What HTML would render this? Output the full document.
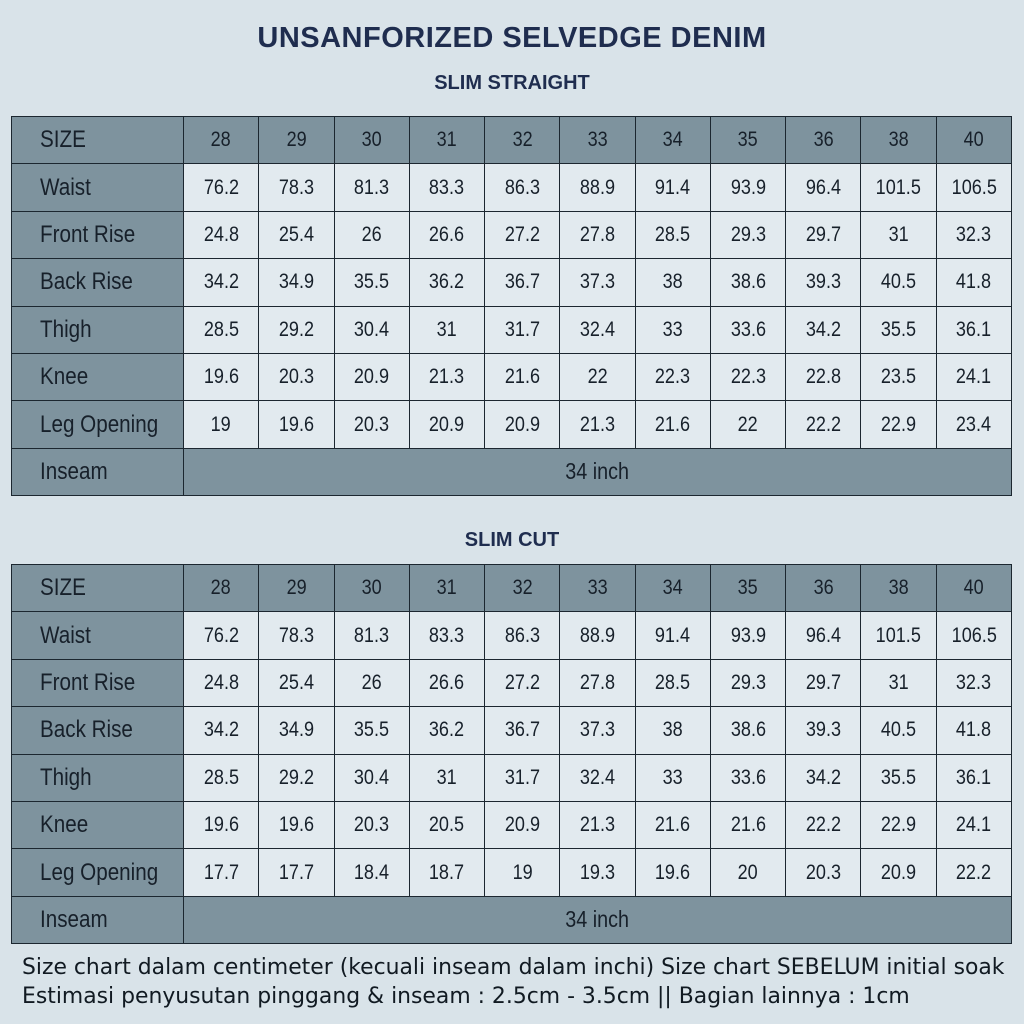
<!DOCTYPE html>
<html><head><meta charset="utf-8"><style>
body{margin:0;width:1024px;height:1024px;background:#d9e3e9;position:relative;overflow:hidden;font-family:"Liberation Sans",sans-serif;color:#17202a}
.t{position:absolute;left:0;width:1024px;text-align:center;font-family:"Liberation Sans",sans-serif;font-weight:bold;color:#1f2d4f}
table{position:absolute;left:11px;width:1001px;border-collapse:collapse;table-layout:fixed}
td{border:1.5px solid #1c2730;height:46.4px;padding:0;text-align:center;font-size:21px;background:#e2eaef;white-space:nowrap}
td span{display:inline-block;transform:scaleX(.86)}
td:first-child{background:#7e939e;text-align:left;padding-left:28px;font-size:24px;width:143px}
td:first-child span{transform-origin:left center}
tr.h td{background:#7e939e}
td.s{background:#7e939e;font-size:23px}
.f{position:absolute;left:22px;font-family:"DejaVu Sans",sans-serif;font-size:21.9px;color:#111a22;white-space:nowrap}
</style></head><body>
<div class="t" style="top:22px;font-size:29px;letter-spacing:0.5px">UNSANFORIZED SELVEDGE DENIM</div>
<div class="t" style="top:72px;font-size:20px">SLIM STRAIGHT</div>
<table style="top:116px">
<tr class="h"><td><span>SIZE</span></td><td><span>28</span></td><td><span>29</span></td><td><span>30</span></td><td><span>31</span></td><td><span>32</span></td><td><span>33</span></td><td><span>34</span></td><td><span>35</span></td><td><span>36</span></td><td><span>38</span></td><td><span>40</span></td></tr>
<tr><td><span>Waist</span></td><td><span>76.2</span></td><td><span>78.3</span></td><td><span>81.3</span></td><td><span>83.3</span></td><td><span>86.3</span></td><td><span>88.9</span></td><td><span>91.4</span></td><td><span>93.9</span></td><td><span>96.4</span></td><td><span>101.5</span></td><td><span>106.5</span></td></tr>
<tr><td><span>Front Rise</span></td><td><span>24.8</span></td><td><span>25.4</span></td><td><span>26</span></td><td><span>26.6</span></td><td><span>27.2</span></td><td><span>27.8</span></td><td><span>28.5</span></td><td><span>29.3</span></td><td><span>29.7</span></td><td><span>31</span></td><td><span>32.3</span></td></tr>
<tr><td><span>Back Rise</span></td><td><span>34.2</span></td><td><span>34.9</span></td><td><span>35.5</span></td><td><span>36.2</span></td><td><span>36.7</span></td><td><span>37.3</span></td><td><span>38</span></td><td><span>38.6</span></td><td><span>39.3</span></td><td><span>40.5</span></td><td><span>41.8</span></td></tr>
<tr><td><span>Thigh</span></td><td><span>28.5</span></td><td><span>29.2</span></td><td><span>30.4</span></td><td><span>31</span></td><td><span>31.7</span></td><td><span>32.4</span></td><td><span>33</span></td><td><span>33.6</span></td><td><span>34.2</span></td><td><span>35.5</span></td><td><span>36.1</span></td></tr>
<tr><td><span>Knee</span></td><td><span>19.6</span></td><td><span>20.3</span></td><td><span>20.9</span></td><td><span>21.3</span></td><td><span>21.6</span></td><td><span>22</span></td><td><span>22.3</span></td><td><span>22.3</span></td><td><span>22.8</span></td><td><span>23.5</span></td><td><span>24.1</span></td></tr>
<tr><td><span>Leg Opening</span></td><td><span>19</span></td><td><span>19.6</span></td><td><span>20.3</span></td><td><span>20.9</span></td><td><span>20.9</span></td><td><span>21.3</span></td><td><span>21.6</span></td><td><span>22</span></td><td><span>22.2</span></td><td><span>22.9</span></td><td><span>23.4</span></td></tr>
<tr><td><span>Inseam</span></td><td class="s" colspan="11"><span>34 inch</span></td></tr>
</table>
<div class="t" style="top:529px;font-size:20px">SLIM CUT</div>
<table style="top:564px">
<tr class="h"><td><span>SIZE</span></td><td><span>28</span></td><td><span>29</span></td><td><span>30</span></td><td><span>31</span></td><td><span>32</span></td><td><span>33</span></td><td><span>34</span></td><td><span>35</span></td><td><span>36</span></td><td><span>38</span></td><td><span>40</span></td></tr>
<tr><td><span>Waist</span></td><td><span>76.2</span></td><td><span>78.3</span></td><td><span>81.3</span></td><td><span>83.3</span></td><td><span>86.3</span></td><td><span>88.9</span></td><td><span>91.4</span></td><td><span>93.9</span></td><td><span>96.4</span></td><td><span>101.5</span></td><td><span>106.5</span></td></tr>
<tr><td><span>Front Rise</span></td><td><span>24.8</span></td><td><span>25.4</span></td><td><span>26</span></td><td><span>26.6</span></td><td><span>27.2</span></td><td><span>27.8</span></td><td><span>28.5</span></td><td><span>29.3</span></td><td><span>29.7</span></td><td><span>31</span></td><td><span>32.3</span></td></tr>
<tr><td><span>Back Rise</span></td><td><span>34.2</span></td><td><span>34.9</span></td><td><span>35.5</span></td><td><span>36.2</span></td><td><span>36.7</span></td><td><span>37.3</span></td><td><span>38</span></td><td><span>38.6</span></td><td><span>39.3</span></td><td><span>40.5</span></td><td><span>41.8</span></td></tr>
<tr><td><span>Thigh</span></td><td><span>28.5</span></td><td><span>29.2</span></td><td><span>30.4</span></td><td><span>31</span></td><td><span>31.7</span></td><td><span>32.4</span></td><td><span>33</span></td><td><span>33.6</span></td><td><span>34.2</span></td><td><span>35.5</span></td><td><span>36.1</span></td></tr>
<tr><td><span>Knee</span></td><td><span>19.6</span></td><td><span>19.6</span></td><td><span>20.3</span></td><td><span>20.5</span></td><td><span>20.9</span></td><td><span>21.3</span></td><td><span>21.6</span></td><td><span>21.6</span></td><td><span>22.2</span></td><td><span>22.9</span></td><td><span>24.1</span></td></tr>
<tr><td><span>Leg Opening</span></td><td><span>17.7</span></td><td><span>17.7</span></td><td><span>18.4</span></td><td><span>18.7</span></td><td><span>19</span></td><td><span>19.3</span></td><td><span>19.6</span></td><td><span>20</span></td><td><span>20.3</span></td><td><span>20.9</span></td><td><span>22.2</span></td></tr>
<tr><td><span>Inseam</span></td><td class="s" colspan="11"><span>34 inch</span></td></tr>
</table>
<div class="f" style="top:955px">Size chart dalam centimeter (kecuali inseam dalam inchi) Size chart SEBELUM initial soak</div>
<div class="f" style="top:984px">Estimasi penyusutan pinggang &amp; inseam : 2.5cm - 3.5cm || Bagian lainnya : 1cm</div>
</body></html>
